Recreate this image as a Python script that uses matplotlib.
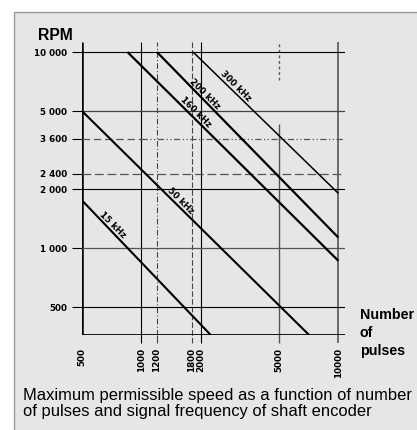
import matplotlib
matplotlib.use('AGG')
import matplotlib.pyplot as plt
import numpy as np
from matplotlib.patches import Rectangle

plt.rcParams['font.family'] = ['Liberation Sans', 'DejaVu Sans']

# data
freq_labels = ['15 kHz', '50 kHz', '160 kHz', '200 kHz', '300 kHz']
line_x0 = [500, 500, 850, 1200, 1830]
line_y0 = [1750, 5000, 10000, 10000, 10000]
line_x1 = [2250, 7100, 10000, 10000, 10000]
line_y1 = [360, 360, 860, 1130, 1900]
line_w = [1.5, 1.5, 1.6, 1.6, 1.1]
label_at = [682, 1510, 1800, 2020, 2870]   # pulses where each label sits on its line

x_ticks = [500, 1000, 1200, 1800, 2000, 5000, 10000]
x_tick_labels = ['500', '1000', '1200', '1800', '2000', '5000', '10000']
y_ticks = [500, 1000, 2000, 2400, 3600, 5000, 10000]
y_tick_labels = ['500', '1 000', '2 000', '2 400', '3 600', '5 000', '10 000']

xmin, xmax = 500, 10800
ymin, ymax = 360, 11250
ystub = 328

fig = plt.figure(figsize=(4.17, 4.30), dpi=100)
panel = Rectangle((14 / 417, -0.01), 1, 1 - 12 / 430 + 0.01, transform=fig.transFigure,
                  facecolor='#e6e6e6', edgecolor='#999999', lw=1.0, zorder=-10)
fig.patches.append(panel)

ax = fig.add_axes([82 / 417, (430 - 335) / 430, (345 - 82) / 417, (335 - 42) / 430])
ax.set_xscale('log')
ax.set_yscale('log')
ax.set_xlim(xmin, xmax)
ax.set_ylim(ymin, ymax)
ax.patch.set_visible(False)
for s in ax.spines.values():
    s.set_visible(False)

# vertical grid lines
ax.vlines(500, ymin, ymax, color='black', lw=1.8)
ax.vlines(1000, ystub, ymax, color='black', lw=0.8, clip_on=False)
ax.vlines(1200, ymin, ymax, color='#444444', lw=0.8, linestyles=(0, (5, 2, 1, 2)))
ax.vlines(1200, ystub, ymin, color='#444444', lw=0.8, clip_on=False)
ax.vlines(1800, ystub, ymax, color='#444444', lw=0.8, linestyles=(0, (5, 2)), clip_on=False)
ax.vlines(2000, ystub, ymax, color='black', lw=0.8, clip_on=False)
ax.vlines(5000, ystub, 4300, color='#555555', lw=1.0, clip_on=False)
ax.vlines(5000, 7200, ymax, color='#555555', lw=1.0, linestyles=(0, (2, 2)))
ax.vlines(10000, ystub, ymax, color='#555555', lw=1.2, clip_on=False)

# horizontal grid lines
ax.hlines(10000, xmin, xmax, color='black', lw=0.8)
ax.hlines(5000, xmin, xmax, color='#444444', lw=0.9)
ax.hlines(3600, xmin, 1000, color='#555555', lw=0.9, linestyles=(0, (6, 3)))
ax.hlines(3600, 1000, xmax, color='#555555', lw=0.9, linestyles=(0, (5, 2, 1, 2, 1, 2)))
ax.hlines(2400, xmin, xmax, color='#555555', lw=0.9, linestyles=(0, (7, 3)))
ax.hlines(2000, xmin, xmax, color='black', lw=0.8)
ax.hlines(1000, xmin, xmax, color='#555555', lw=0.9)
ax.hlines(500, xmin, xmax, color='black', lw=0.8)
ax.hlines(ymin, xmin, xmax, color='black', lw=2.0)

# frequency lines with labels resting on them
for i in range(len(freq_labels)):
    xs = [line_x0[i], line_x1[i]]
    ys = [line_y0[i], line_y1[i]]
    ax.plot(xs, ys, color='black', lw=line_w[i], solid_capstyle='butt')
    ly = 10 ** np.interp(np.log10(label_at[i]), np.log10(xs), np.log10(ys))
    ax.annotate(freq_labels[i], (label_at[i], ly), xytext=(2.6, 2.6), textcoords='offset points',
                rotation=-45, ha='center', va='center', rotation_mode='anchor',
                fontsize=6.3, fontweight='bold', family='DejaVu Sans')

ax.set_yticks(y_ticks)
ax.set_yticklabels(y_tick_labels)
ax.set_xticks(x_ticks)
ax.set_xticklabels(x_tick_labels, rotation=90, va='top')
ax.minorticks_off()
ax.tick_params(axis='y', length=7.5, width=0.8, pad=3, labelsize=6.3)
ax.tick_params(axis='x', length=0, pad=9, labelsize=6.3)
for t in ax.get_xticklabels() + ax.get_yticklabels():
    t.set_fontweight('bold')
    t.set_family('DejaVu Sans')

fig.text(38 / 417, 1 - 40 / 430, 'RPM', fontsize=11.3, fontweight='bold', ha='left', va='baseline')
fig.text(360 / 417, 1 - 308 / 430, 'Number\nof\npulses', fontsize=10.3, fontweight='bold',
         ha='left', va='top', linespacing=1.38)
fig.text(23 / 417, 1 - 388 / 430,
         'Maximum permissible speed as a function of number\nof pulses and signal frequency of shaft encoder',
         fontsize=11.9, ha='left', va='top', linespacing=1.1)

fig.savefig('out.png', dpi=100)
